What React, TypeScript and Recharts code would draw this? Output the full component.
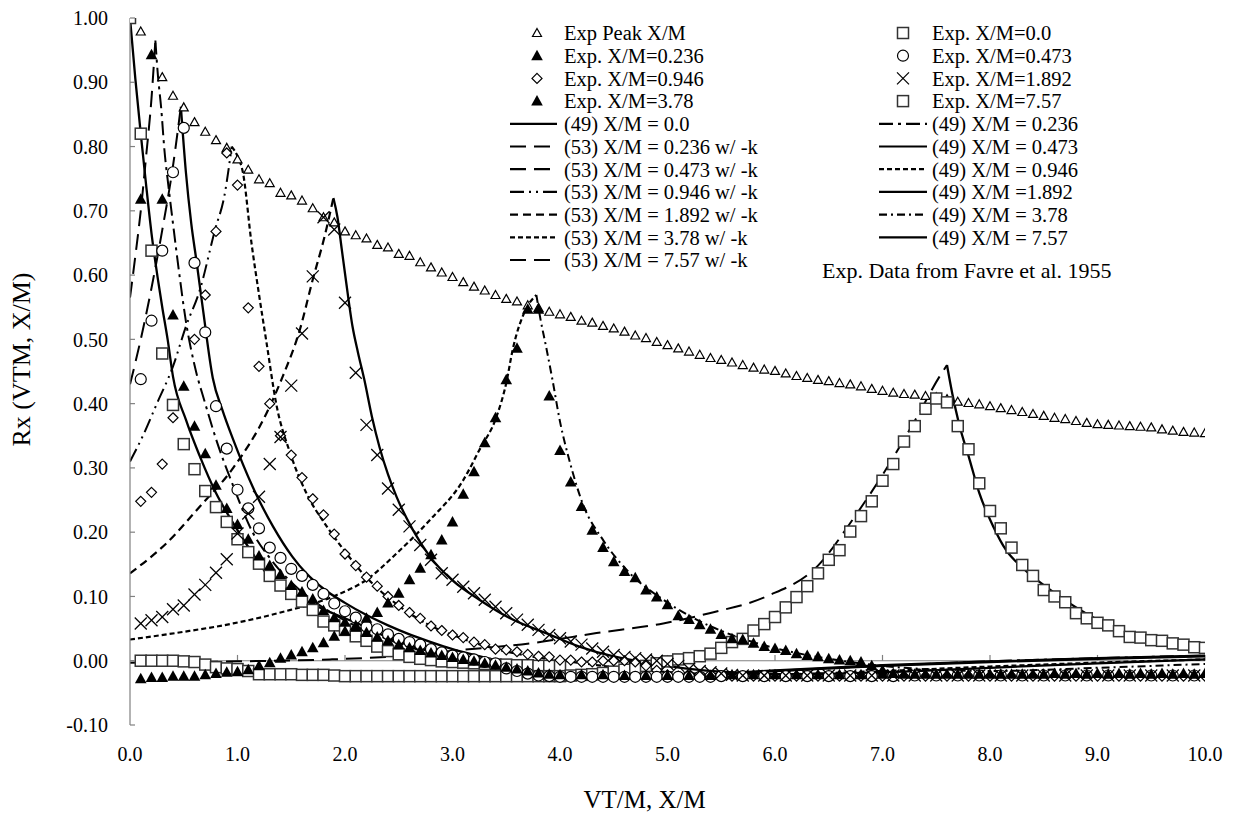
import React from 'react';
import { ComposedChart, Line, Scatter, XAxis, YAxis, ReferenceLine } from 'recharts';

// Rx decay vs VT/M for several X/M positions (Favre et al. 1955 data + models)

type Pt = [number, number];

const FONT = '"Liberation Serif", "Times New Roman", serif';
const AXIS_GREY = '#808080';

const X_TICKS = [0, 1, 2, 3, 4, 5, 6, 7, 8, 9, 10];
const Y_TICKS = [-0.1, 0, 0.1, 0.2, 0.3, 0.4, 0.5, 0.6, 0.7, 0.8, 0.9, 1.0];

// ---------------------------------------------------------------------------
//  Experimental data (read off the figure)
// ---------------------------------------------------------------------------

const EXP_PEAK: Pt[] = [
  [0, 1.0], [0.1, 0.979], [0.3, 0.908], [0.4, 0.879], [0.5, 0.861], [0.6, 0.838], [0.7, 0.823], [0.8, 0.81],
  [0.9, 0.798], [1.0, 0.78], [1.1, 0.764], [1.2, 0.749], [1.3, 0.743], [1.4, 0.728], [1.5, 0.724], [1.6, 0.716],
  [1.7, 0.704], [1.8, 0.69], [1.9, 0.682], [2.0, 0.668], [2.1, 0.662], [2.2, 0.657], [2.3, 0.647], [2.4, 0.643],
  [2.5, 0.633], [2.6, 0.63], [2.7, 0.62], [2.8, 0.612], [2.9, 0.604], [3.0, 0.597], [3.1, 0.589], [3.2, 0.582],
  [3.3, 0.576], [3.4, 0.569], [3.5, 0.563], [3.6, 0.559], [3.7, 0.553], [3.8, 0.549], [3.9, 0.543], [4.0, 0.539],
  [4.1, 0.535], [4.2, 0.529], [4.3, 0.526], [4.4, 0.521], [4.5, 0.517], [4.6, 0.512], [4.7, 0.506], [4.8, 0.502],
  [4.9, 0.496], [5.0, 0.491], [5.1, 0.486], [5.2, 0.481], [5.3, 0.476], [5.4, 0.471], [5.5, 0.468], [5.6, 0.464],
  [5.7, 0.46], [5.8, 0.456], [5.9, 0.453], [6.0, 0.451], [6.1, 0.447], [6.2, 0.443], [6.3, 0.44], [6.4, 0.437],
  [6.5, 0.435], [6.6, 0.432], [6.7, 0.43], [6.8, 0.427], [6.9, 0.423], [7.0, 0.42], [7.1, 0.417], [7.2, 0.415],
  [7.3, 0.414], [7.4, 0.412], [7.5, 0.41], [7.6, 0.407], [7.7, 0.403], [7.8, 0.401], [7.9, 0.399], [8.0, 0.396],
  [8.1, 0.393], [8.2, 0.39], [8.3, 0.387], [8.4, 0.384], [8.5, 0.381], [8.6, 0.378], [8.7, 0.376], [8.8, 0.373],
  [8.9, 0.37], [9.0, 0.368], [9.1, 0.367], [9.2, 0.366], [9.3, 0.365], [9.4, 0.364], [9.5, 0.363], [9.6, 0.36],
  [9.7, 0.358], [9.8, 0.356], [9.9, 0.355], [10.0, 0.354],
];

const EXP_0: Pt[] = [
  [0, 1.0], [0.1, 0.82], [0.2, 0.638], [0.3, 0.478], [0.4, 0.398], [0.5, 0.337], [0.6, 0.298], [0.7, 0.264],
  [0.8, 0.239], [0.9, 0.216], [1.0, 0.189], [1.1, 0.169], [1.2, 0.151], [1.3, 0.132], [1.4, 0.117], [1.5, 0.104],
  [1.6, 0.092], [1.7, 0.079], [1.8, 0.061], [1.9, 0.055], [2.0, 0.048], [2.1, 0.038], [2.2, 0.031], [2.3, 0.022],
  [2.4, 0.015], [2.5, 0.01], [2.6, 0.006], [2.7, 0.003], [2.8, 0.001], [2.9, -0.001], [3.0, -0.002], [3.1, -0.003],
  [3.2, -0.004], [3.3, -0.005], [3.4, -0.006], [3.5, -0.006], [3.6, -0.007], [3.7, -0.007], [3.8, -0.008],
  [3.9, -0.008], [4.0, -0.008],
];

const EXP_0236: Pt[] = [
  [0.1, 0.718], [0.2, 0.943], [0.3, 0.718], [0.4, 0.538], [0.5, 0.427], [0.6, 0.365], [0.7, 0.322], [0.8, 0.273],
  [0.9, 0.237], [1.0, 0.212], [1.1, 0.189], [1.2, 0.163], [1.3, 0.148], [1.4, 0.134], [1.5, 0.117], [1.6, 0.107],
  [1.7, 0.096], [1.8, 0.078], [1.9, 0.067], [2.0, 0.06], [2.1, 0.052], [2.2, 0.044], [2.3, 0.037], [2.4, 0.031],
  [2.5, 0.025], [2.6, 0.02], [2.7, 0.016], [2.8, 0.012], [2.9, 0.008], [3.0, 0.005], [3.1, 0.002], [3.2, -0.001],
  [3.3, -0.004], [3.4, -0.007], [3.5, -0.01], [3.6, -0.013], [3.7, -0.016], [3.8, -0.019], [3.9, -0.021],
  [4.0, -0.022], [4.2, -0.022], [4.4, -0.022], [4.6, -0.023], [4.8, -0.023], [5.0, -0.023], [5.2, -0.023],
  [5.4, -0.023], [5.6, -0.022], [5.8, -0.022], [6.0, -0.022], [6.2, -0.022], [6.4, -0.022], [6.6, -0.022],
  [6.8, -0.022], [7.0, -0.021], [7.2, -0.021], [7.4, -0.021], [7.6, -0.021], [7.8, -0.021], [8.0, -0.021],
  [8.2, -0.021], [8.4, -0.021], [8.6, -0.02], [8.8, -0.02], [9.0, -0.02], [9.2, -0.02], [9.4, -0.02],
  [9.6, -0.02], [9.8, -0.02], [10.0, -0.02],
];

const EXP_0473: Pt[] = [
  [0.1, 0.438], [0.2, 0.529], [0.3, 0.638], [0.4, 0.76], [0.5, 0.829], [0.6, 0.619], [0.7, 0.511], [0.8, 0.396],
  [0.9, 0.33], [1.0, 0.266], [1.1, 0.237], [1.2, 0.206], [1.3, 0.176], [1.4, 0.16], [1.5, 0.143], [1.6, 0.132],
  [1.7, 0.118], [1.8, 0.104], [1.9, 0.089], [2.0, 0.077], [2.1, 0.067], [2.2, 0.053], [2.3, 0.049], [2.4, 0.041],
  [2.5, 0.034], [2.6, 0.029], [2.7, 0.025], [2.8, 0.018], [2.9, 0.013], [3.0, 0.008], [3.1, 0.005], [3.2, 0.002],
  [3.3, -0.002], [3.4, -0.004], [3.5, -0.012], [3.6, -0.016], [3.7, -0.02], [3.8, -0.023], [3.9, -0.024],
  [4.0, -0.025], [4.1, -0.025], [4.2, -0.025], [4.3, -0.025], [4.4, -0.025], [4.5, -0.025], [4.6, -0.025],
  [4.7, -0.025], [4.8, -0.025], [4.9, -0.025], [5.0, -0.025], [5.1, -0.025], [5.2, -0.025], [5.3, -0.025],
  [5.4, -0.025], [5.5, -0.024], [5.7, -0.024], [5.9, -0.024], [6.1, -0.024], [6.3, -0.024], [6.5, -0.024],
  [6.7, -0.024], [6.9, -0.024], [7.1, -0.024], [7.3, -0.023], [7.5, -0.023], [7.7, -0.023], [7.9, -0.023],
  [8.1, -0.023], [8.3, -0.023], [8.5, -0.023], [8.7, -0.023], [8.9, -0.023], [9.1, -0.023], [9.3, -0.023],
  [9.5, -0.023], [9.7, -0.023], [9.9, -0.023],
];

const EXP_0946: Pt[] = [
  [0.1, 0.248], [0.2, 0.262], [0.3, 0.306], [0.4, 0.378], [0.6, 0.5], [0.7, 0.569], [0.8, 0.668], [0.9, 0.79],
  [1.0, 0.74], [1.1, 0.549], [1.2, 0.458], [1.3, 0.4], [1.4, 0.35], [1.5, 0.32], [1.6, 0.285], [1.7, 0.252],
  [1.8, 0.227], [1.9, 0.197], [2.0, 0.166], [2.1, 0.148], [2.2, 0.13], [2.3, 0.116], [2.4, 0.1], [2.5, 0.086],
  [2.6, 0.075], [2.7, 0.066], [2.8, 0.054], [2.9, 0.047], [3.0, 0.04], [3.1, 0.036], [3.2, 0.029], [3.3, 0.025],
  [3.4, 0.018], [3.5, 0.017], [3.6, 0.014], [3.7, 0.01], [3.8, 0.007], [3.9, 0.006], [4.0, 0.001], [4.1, 0.001],
  [4.2, -0.002], [4.3, -0.002], [4.4, 0.0], [4.5, 0.0], [4.6, 0.0], [4.7, -0.002], [4.8, -0.008], [4.9, -0.015],
  [5.0, -0.022], [5.1, -0.024], [5.2, -0.024], [5.3, -0.024], [5.4, -0.024], [5.5, -0.024], [5.6, -0.024],
  [5.7, -0.024], [5.8, -0.024], [5.9, -0.024], [6.0, -0.024], [6.2, -0.024], [6.4, -0.024], [6.6, -0.024],
  [6.8, -0.024], [7.0, -0.024], [7.2, -0.024], [7.4, -0.024], [7.6, -0.024], [7.8, -0.024], [8.0, -0.024],
  [8.2, -0.024], [8.4, -0.024], [8.6, -0.024], [8.8, -0.024], [9.0, -0.024], [9.2, -0.024], [9.4, -0.024],
  [9.6, -0.024], [9.8, -0.024], [10.0, -0.024],
];

const EXP_1892: Pt[] = [
  [0.1, 0.058], [0.2, 0.063], [0.3, 0.068], [0.4, 0.08], [0.5, 0.086], [0.6, 0.103], [0.7, 0.118], [0.8, 0.137],
  [0.9, 0.158], [1.0, 0.198], [1.1, 0.229], [1.2, 0.255], [1.3, 0.306], [1.4, 0.348], [1.5, 0.428], [1.6, 0.509],
  [1.7, 0.598], [1.8, 0.69], [1.9, 0.671], [2.0, 0.557], [2.1, 0.448], [2.2, 0.367], [2.3, 0.32], [2.4, 0.268],
  [2.5, 0.235], [2.6, 0.209], [2.7, 0.18], [2.8, 0.157], [2.9, 0.136], [3.0, 0.126], [3.1, 0.115], [3.2, 0.105],
  [3.3, 0.095], [3.4, 0.084], [3.5, 0.074], [3.6, 0.064], [3.7, 0.056], [3.8, 0.048], [3.9, 0.04], [4.0, 0.035],
  [4.1, 0.03], [4.2, 0.025], [4.3, 0.019], [4.4, 0.014], [4.5, 0.009], [4.6, 0.006], [4.7, 0.004], [4.8, 0.002],
  [4.9, 0.0], [5.0, -0.005], [5.1, -0.008], [5.2, -0.013], [5.3, -0.016], [5.4, -0.018], [5.5, -0.02],
  [5.6, -0.022], [5.7, -0.023], [5.9, -0.023], [6.1, -0.023], [6.3, -0.023], [6.5, -0.023], [6.7, -0.023],
  [6.9, -0.023], [7.1, -0.023], [7.3, -0.023], [7.5, -0.023], [7.7, -0.023], [7.9, -0.023], [8.1, -0.023],
  [8.3, -0.023], [8.5, -0.023], [8.7, -0.023], [8.9, -0.023], [9.1, -0.023], [9.3, -0.023], [9.5, -0.023],
  [9.7, -0.023], [9.9, -0.023],
];

const EXP_378: Pt[] = [
  [0.1, -0.028], [0.2, -0.026], [0.3, -0.026], [0.4, -0.024], [0.5, -0.024], [0.6, -0.024], [0.7, -0.022],
  [0.8, -0.02], [0.9, -0.018], [1.0, -0.017], [1.1, -0.014], [1.2, -0.008], [1.3, -0.003], [1.4, 0.004],
  [1.5, 0.009], [1.6, 0.014], [1.7, 0.02], [1.8, 0.028], [1.9, 0.038], [2.0, 0.046], [2.1, 0.055], [2.2, 0.066],
  [2.3, 0.075], [2.4, 0.09], [2.5, 0.105], [2.6, 0.126], [2.7, 0.144], [2.8, 0.165], [2.9, 0.188], [3.0, 0.216],
  [3.1, 0.259], [3.2, 0.294], [3.3, 0.339], [3.4, 0.378], [3.5, 0.437], [3.6, 0.486], [3.7, 0.547], [3.8, 0.547],
  [3.9, 0.412], [4.0, 0.327], [4.1, 0.278], [4.2, 0.24], [4.3, 0.203], [4.4, 0.176], [4.5, 0.154], [4.6, 0.139],
  [4.7, 0.129], [4.8, 0.11], [4.9, 0.099], [5.0, 0.087], [5.1, 0.07], [5.2, 0.064], [5.3, 0.056], [5.4, 0.049],
  [5.5, 0.041], [5.6, 0.034], [5.7, 0.033], [5.8, 0.027], [5.9, 0.022], [6.0, 0.019], [6.1, 0.016], [6.2, 0.011],
  [6.3, 0.008], [6.4, 0.006], [6.5, 0.003], [6.6, 0.001], [6.7, 0.0], [6.8, -0.002], [6.9, -0.008],
  [7.0, -0.015], [7.1, -0.02], [7.3, -0.021], [7.5, -0.021], [7.7, -0.021], [7.9, -0.021], [8.1, -0.021],
  [8.3, -0.021], [8.5, -0.021], [8.7, -0.021], [8.9, -0.021], [9.1, -0.021], [9.3, -0.021], [9.5, -0.021],
  [9.7, -0.021], [9.9, -0.021],
];

const EXP_757: Pt[] = [
  [0.1, 0.0], [0.2, 0.0], [0.3, 0.0], [0.4, 0.0], [0.5, -0.001], [0.6, -0.002], [0.7, -0.006], [0.8, -0.01],
  [0.9, -0.012], [1.0, -0.013], [1.1, -0.016], [1.2, -0.021], [1.3, -0.021], [1.4, -0.021], [1.5, -0.021],
  [1.6, -0.022], [1.7, -0.022], [1.8, -0.022], [1.9, -0.023], [2.0, -0.024], [2.1, -0.024], [2.2, -0.024],
  [2.3, -0.024], [2.4, -0.024], [2.5, -0.024], [2.6, -0.024], [2.7, -0.024], [2.8, -0.024], [2.9, -0.024],
  [3.0, -0.024], [3.1, -0.024], [3.2, -0.024], [3.3, -0.024], [3.4, -0.024], [3.5, -0.024], [3.6, -0.024],
  [3.7, -0.024], [3.8, -0.024], [3.9, -0.024], [4.0, -0.024], [4.1, -0.023], [4.2, -0.022], [4.3, -0.021],
  [4.4, -0.019], [4.5, -0.017], [4.6, -0.014], [4.7, -0.011], [4.8, -0.008], [4.9, -0.004], [5.0, -0.001],
  [5.1, 0.002], [5.2, 0.004], [5.3, 0.007], [5.4, 0.011], [5.5, 0.02], [5.6, 0.029], [5.7, 0.034], [5.8, 0.047],
  [5.9, 0.057], [6.0, 0.068], [6.1, 0.083], [6.2, 0.099], [6.3, 0.116], [6.4, 0.136], [6.5, 0.157], [6.6, 0.172],
  [6.7, 0.201], [6.8, 0.225], [6.9, 0.248], [7.0, 0.28], [7.1, 0.306], [7.2, 0.341], [7.3, 0.365], [7.4, 0.392],
  [7.5, 0.408], [7.6, 0.402], [7.7, 0.365], [7.8, 0.329], [7.9, 0.276], [8.0, 0.233], [8.1, 0.206], [8.2, 0.176],
  [8.3, 0.149], [8.4, 0.132], [8.5, 0.11], [8.6, 0.1], [8.7, 0.091], [8.8, 0.074], [8.9, 0.066], [9.0, 0.059],
  [9.1, 0.055], [9.2, 0.046], [9.3, 0.037], [9.4, 0.036], [9.5, 0.032], [9.6, 0.031], [9.7, 0.027], [9.8, 0.025],
  [9.9, 0.021], [10.0, 0.02],
];

// ---------------------------------------------------------------------------
//  Model curves: (53) w/ -k before the peak, (49) after it
// ---------------------------------------------------------------------------

const M49_00: Pt[] = [
  [0, 1.0], [0.05, 0.905], [0.1, 0.82], [0.15, 0.74], [0.2, 0.665], [0.26, 0.593], [0.3, 0.55], [0.35, 0.5],
  [0.4, 0.442], [0.52, 0.375], [0.65, 0.318], [0.8, 0.261], [0.96, 0.214], [1.14, 0.167], [1.27, 0.136],
  [1.45, 0.113], [1.6, 0.097], [1.8, 0.08], [2.0, 0.066], [2.12, 0.058], [2.4, 0.036], [2.74, 0.017],
  [3.0, 0.006], [3.36, -0.009], [3.6, -0.018], [3.86, -0.025], [4.2, -0.029], [4.6, -0.028], [5.0, -0.025],
  [5.5, -0.02], [6.0, -0.015], [7.0, -0.007], [8.0, -0.001], [9.0, 0.004], [10.0, 0.008],
];
const M49_0236: Pt[] = [
  [0.236, 0.965], [0.26, 0.91], [0.29, 0.86], [0.32, 0.795], [0.36, 0.735], [0.4, 0.68], [0.46, 0.6],
  [0.52, 0.528], [0.6, 0.46], [0.7, 0.4], [0.8, 0.345], [0.96, 0.272], [1.14, 0.2], [1.3, 0.16], [1.5, 0.122],
  [1.7, 0.094], [1.9, 0.072], [2.1, 0.054], [2.3, 0.04], [2.5, 0.027], [2.7, 0.016], [2.9, 0.006],
  [3.1, -0.003], [3.4, -0.013], [3.7, -0.021], [4.0, -0.026], [4.4, -0.028], [5.0, -0.025], [6.0, -0.016],
  [7.0, -0.008], [8.0, -0.001], [9.0, 0.004], [10.0, 0.008],
];
const M49_0473: Pt[] = [
  [0.473, 0.862], [0.52, 0.76], [0.57, 0.68], [0.62, 0.62], [0.68, 0.545], [0.77, 0.44], [0.86, 0.39],
  [0.96, 0.344], [1.14, 0.271], [1.33, 0.209], [1.51, 0.162], [1.64, 0.136], [1.8, 0.112], [2.0, 0.09],
  [2.2, 0.071], [2.4, 0.055], [2.6, 0.041], [2.8, 0.029], [3.0, 0.018], [3.2, 0.009], [3.4, 0.001],
  [3.6, -0.007], [3.8, -0.014], [4.0, -0.02], [4.3, -0.025], [4.7, -0.027], [5.2, -0.024], [6.0, -0.016],
  [7.0, -0.008], [8.0, -0.002], [9.0, 0.003], [10.0, 0.007],
];
const M49_0946: Pt[] = [
  [0.946, 0.8], [1.0, 0.785], [1.05, 0.76], [1.13, 0.65], [1.2, 0.57], [1.27, 0.495], [1.36, 0.4],
  [1.49, 0.323], [1.64, 0.261], [1.83, 0.209], [2.0, 0.17], [2.17, 0.135], [2.48, 0.088], [2.79, 0.055],
  [3.1, 0.034], [3.41, 0.018], [3.72, 0.007], [4.03, 0.0], [4.4, -0.008], [4.8, -0.015], [5.3, -0.02],
  [6.0, -0.021], [7.0, -0.016], [8.0, -0.009], [9.0, -0.003], [10.0, 0.002],
];
const M49_1892: Pt[] = [
  [1.892, 0.72], [1.93, 0.69], [1.97, 0.64], [2.01, 0.59], [2.07, 0.52], [2.12, 0.48], [2.18, 0.437],
  [2.25, 0.38], [2.32, 0.333], [2.4, 0.29], [2.48, 0.255], [2.63, 0.204], [2.79, 0.162], [3.0, 0.125],
  [3.25, 0.095], [3.56, 0.064], [3.87, 0.043], [4.18, 0.022], [4.49, 0.007], [4.8, -0.003], [5.27, -0.014],
  [5.7, -0.019], [6.2, -0.021], [7.0, -0.018], [8.0, -0.011], [9.0, -0.004], [10.0, 0.002],
];
const M49_378: Pt[] = [
  [3.78, 0.569], [3.82, 0.53], [3.87, 0.489], [3.93, 0.437], [4.0, 0.372], [4.09, 0.31], [4.21, 0.245],
  [4.4, 0.188], [4.65, 0.136], [4.96, 0.095], [5.27, 0.064], [5.6, 0.04], [5.9, 0.024], [6.2, 0.012],
  [6.5, 0.003], [7.0, -0.008], [7.5, -0.014], [8.0, -0.016], [9.0, -0.011], [10.0, -0.005],
];
const M49_757: Pt[] = [
  [7.6, 0.46], [7.65, 0.415], [7.71, 0.37], [7.81, 0.313], [7.9, 0.261], [8.03, 0.209], [8.15, 0.172],
  [8.3, 0.145], [8.58, 0.108], [8.89, 0.074], [9.2, 0.048], [9.51, 0.032], [10.0, 0.012],
];

const M53_0236: Pt[] = [[0, 0.565], [0.05, 0.63], [0.1, 0.7], [0.15, 0.785], [0.2, 0.875], [0.236, 0.965]];
const M53_0473: Pt[] = [[0, 0.43], [0.1, 0.5], [0.2, 0.58], [0.3, 0.67], [0.4, 0.77], [0.473, 0.862]];
const M53_0946: Pt[] = [
  [0, 0.31], [0.12, 0.35], [0.25, 0.4], [0.4, 0.458], [0.52, 0.52], [0.65, 0.577], [0.79, 0.67], [0.88, 0.725],
  [0.946, 0.8],
];
const M53_1892: Pt[] = [
  [0, 0.136], [0.34, 0.183], [0.65, 0.24], [0.96, 0.3], [1.27, 0.385], [1.42, 0.442], [1.58, 0.515],
  [1.7, 0.593], [1.81, 0.66], [1.892, 0.72],
];
const M53_378: Pt[] = [
  [0, 0.033], [0.5, 0.045], [0.96, 0.058], [1.4, 0.075], [1.89, 0.1], [2.2, 0.126], [2.48, 0.167], [2.79, 0.219],
  [3.1, 0.281], [3.25, 0.328], [3.41, 0.38], [3.5, 0.432], [3.56, 0.484], [3.68, 0.546], [3.78, 0.569],
];
const M53_757: Pt[] = [
  [0, -0.003], [1.0, -0.001], [1.86, 0.002], [2.48, 0.007], [3.1, 0.017], [3.72, 0.027], [4.34, 0.043],
  [4.96, 0.058], [5.39, 0.074], [5.92, 0.1], [6.4, 0.148], [6.72, 0.219], [7.03, 0.297], [7.34, 0.385],
  [7.53, 0.442], [7.6, 0.46],
];

// ---------------------------------------------------------------------------
//  Styles
// ---------------------------------------------------------------------------

const DASH = {
  solid: undefined as string | undefined,
  longDash: '16 8',
  dashDotDot: '14 5 2 5 2 5',
  dash: '8 5',
  shortDash: '5 3',
  longDashDot: '14 5 3 5',
  dashDot: '8 4 2 4',
};

const rows = (pts: Pt[]) => pts.map(([x, y]) => ({ x, y }));

type MP = { cx?: number; cy?: number };

function PeakTri({ cx = 0, cy = 0 }: MP) {
  return (
    <path
      d={`M${cx},${cy - 4.5}L${cx + 4.5},${cy + 3.5}L${cx - 4.5},${cy + 3.5}Z`}
      fill="#fff"
      stroke="#000"
      strokeWidth={1.2}
    />
  );
}
function FilledTri({ cx = 0, cy = 0 }: MP) {
  return <path d={`M${cx},${cy - 6}L${cx + 5.8},${cy + 4.5}L${cx - 5.8},${cy + 4.5}Z`} fill="#000" />;
}
function OpenSquare({ cx = 0, cy = 0 }: MP) {
  return <rect x={cx - 5.5} y={cy - 5.5} width={11} height={11} fill="#fff" stroke="#333" strokeWidth={1.5} />;
}
function OpenCircle({ cx = 0, cy = 0 }: MP) {
  return <circle cx={cx} cy={cy} r={5.5} fill="#fff" stroke="#000" strokeWidth={1.2} />;
}
function OpenDiamond({ cx = 0, cy = 0 }: MP) {
  return (
    <path
      d={`M${cx},${cy - 5}L${cx + 5},${cy}L${cx},${cy + 5}L${cx - 5},${cy}Z`}
      fill="#fff"
      stroke="#000"
      strokeWidth={1.2}
    />
  );
}
function Cross({ cx = 0, cy = 0 }: MP) {
  return (
    <g stroke="#000" strokeWidth={1.3}>
      <line x1={cx - 6} y1={cy - 6} x2={cx + 6} y2={cy + 6} />
      <line x1={cx - 6} y1={cy + 6} x2={cx + 6} y2={cy - 6} />
    </g>
  );
}

const SCATTERS = [
  { key: 'peak', data: EXP_PEAK, Shape: PeakTri },
  { key: 'x0', data: EXP_0, Shape: OpenSquare },
  { key: 'x757', data: EXP_757, Shape: OpenSquare },
  { key: 'x0946', data: EXP_0946, Shape: OpenDiamond },
  { key: 'x0473', data: EXP_0473, Shape: OpenCircle },
  { key: 'x1892', data: EXP_1892, Shape: Cross },
  { key: 'x0236', data: EXP_0236, Shape: FilledTri },
  { key: 'x378', data: EXP_378, Shape: FilledTri },
];

const LINES = [
  { key: 'm49_00', data: M49_00, dash: DASH.solid, w: 2.3 },
  { key: 'm53_0236', data: M53_0236, dash: DASH.longDash, w: 2 },
  { key: 'm53_0473', data: M53_0473, dash: DASH.longDash, w: 2 },
  { key: 'm53_0946', data: M53_0946, dash: DASH.dashDotDot, w: 2 },
  { key: 'm53_1892', data: M53_1892, dash: DASH.dash, w: 2.2 },
  { key: 'm53_378', data: M53_378, dash: DASH.shortDash, w: 2.2 },
  { key: 'm53_757', data: M53_757, dash: DASH.longDash, w: 2 },
  { key: 'm49_0236', data: M49_0236, dash: DASH.longDashDot, w: 2 },
  { key: 'm49_0473', data: M49_0473, dash: DASH.solid, w: 2.3 },
  { key: 'm49_0946', data: M49_0946, dash: DASH.shortDash, w: 2.2 },
  { key: 'm49_1892', data: M49_1892, dash: DASH.solid, w: 2.3 },
  { key: 'm49_378', data: M49_378, dash: DASH.dashDot, w: 2 },
  { key: 'm49_757', data: M49_757, dash: DASH.solid, w: 2.3 },
];

// legend rows (left column, right column)
const LEGEND_LEFT: { label: string; marker?: any; dash?: string | null }[] = [
  { label: 'Exp Peak X/M', marker: PeakTri },
  { label: 'Exp. X/M=0.236', marker: FilledTri },
  { label: 'Exp. X/M=0.946', marker: OpenDiamond },
  { label: 'Exp. X/M=3.78', marker: FilledTri },
  { label: '(49) X/M = 0.0', dash: null },
  { label: '(53) X/M = 0.236 w/ -k', dash: DASH.longDash },
  { label: '(53) X/M = 0.473 w/ -k', dash: DASH.longDash },
  { label: '(53) X/M = 0.946 w/ -k', dash: DASH.dashDotDot },
  { label: '(53) X/M = 1.892 w/ -k', dash: DASH.dash },
  { label: '(53) X/M = 3.78 w/ -k', dash: DASH.shortDash },
  { label: '(53) X/M = 7.57 w/ -k', dash: DASH.longDash },
];
const LEGEND_RIGHT: { label: string; marker?: any; dash?: string | null }[] = [
  { label: 'Exp. X/M=0.0', marker: OpenSquare },
  { label: 'Exp. X/M=0.473', marker: OpenCircle },
  { label: 'Exp. X/M=1.892', marker: Cross },
  { label: 'Exp. X/M=7.57', marker: OpenSquare },
  { label: '(49) X/M = 0.236', dash: DASH.longDashDot },
  { label: '(49) X/M = 0.473', dash: null },
  { label: '(49) X/M = 0.946', dash: DASH.shortDash },
  { label: '(49) X/M =1.892', dash: null },
  { label: '(49) X/M = 3.78', dash: DASH.dashDot },
  { label: '(49) X/M = 7.57', dash: null },
];
const SOURCE_NOTE = 'Exp. Data from Favre et al. 1955';

// ---------------------------------------------------------------------------
//  Axis pieces
// ---------------------------------------------------------------------------

function YTick({ x = 0, y = 0, payload }: any) {
  return (
    <g>
      <line x1={x + 22} x2={x + 27} y1={y} y2={y} stroke={AXIS_GREY} strokeWidth={1.2} />
      <text x={x} y={y} dy="0.36em" textAnchor="end" fontFamily={FONT} fontSize={20} fill="#000">
        {Number(payload.value).toFixed(2)}
      </text>
    </g>
  );
}

function XTick({ x = 0, y = 0, payload }: any) {
  return (
    <text x={x} y={y + 28} textAnchor="middle" fontFamily={FONT} fontSize={20} fill="#000">
      {Number(payload.value).toFixed(1)}
    </text>
  );
}

function XTitle({ viewBox }: any) {
  const vb = viewBox || { x: 130, y: 725, width: 1075, height: 30 };
  return (
    <text x={vb.x + vb.width / 2 - 23} y={vb.y + 83} textAnchor="middle" fontFamily={FONT} fontSize={25} fill="#000">
      VT/M, X/M
    </text>
  );
}

function YTitle({ viewBox }: any) {
  const vb = viewBox || { x: 0, y: 18, width: 130, height: 707 };
  const cx = vb.x + 30;
  const cy = vb.y + vb.height / 2 - 12;
  return (
    <text
      x={cx}
      y={cy}
      transform={`rotate(-90 ${cx} ${cy})`}
      textAnchor="middle"
      fontFamily={FONT}
      fontSize={26}
      fill="#000"
    >
      Rx (VTM, X/M)
    </text>
  );
}

function LegendColumn({ items, markerX, lineX1, lineX2, textX }: any) {
  const ROW0 = 33;
  const STEP = 22.7;
  return (
    <g>
      {items.map((it: any, i: number) => {
        const cy = ROW0 + i * STEP;
        const M = it.marker;
        return (
          <g key={it.label}>
            {M ? (
              <M cx={markerX} cy={cy} />
            ) : (
              <line
                x1={lineX1}
                x2={lineX2}
                y1={cy}
                y2={cy}
                stroke="#000"
                strokeWidth={2.2}
                strokeDasharray={it.dash || undefined}
              />
            )}
            <text x={textX} y={cy} dy="0.36em" fontFamily={FONT} fontSize={20.5} fill="#000">
              {it.label}
            </text>
          </g>
        );
      })}
    </g>
  );
}

export default function App() {
  return (
    <div style={{ position: 'absolute', left: 0, top: 0, width: 1242, height: 815, background: '#fff' }}>
      <ComposedChart width={1242} height={815} margin={{ top: 18, right: 37, bottom: 60, left: 0 }}>
        <XAxis
          type="number"
          dataKey="x"
          domain={[0, 10]}
          ticks={X_TICKS}
          interval={0}
          axisLine={false}
          tickLine={false}
          height={30}
          tick={<XTick />}
          label={<XTitle />}
          allowDataOverflow
        />
        <YAxis
          type="number"
          dataKey="y"
          domain={[-0.1, 1]}
          ticks={Y_TICKS}
          interval={0}
          width={130}
          axisLine={{ stroke: AXIS_GREY, strokeWidth: 1.2 }}
          tickLine={false}
          tickSize={6}
          tickMargin={16}
          tick={<YTick />}
          label={<YTitle />}
          allowDataOverflow
        />
        <ReferenceLine y={0} stroke={AXIS_GREY} strokeWidth={1.2} />
        {X_TICKS.slice(1).map((t) => (
          <ReferenceLine
            key={`xt-${t}`}
            segment={[
              { x: t, y: 0 },
              { x: t, y: 0.009 },
            ]}
            stroke={AXIS_GREY}
            strokeWidth={1.2}
          />
        ))}
        {LINES.map((l) => (
          <Line
            key={l.key}
            data={rows(l.data)}
            dataKey="y"
            type="monotone"
            stroke="#000"
            strokeWidth={l.w}
            strokeDasharray={l.dash}
            dot={false}
            activeDot={false}
            isAnimationActive={false}
          />
        ))}
        {SCATTERS.map((s) => {
          const Shape = s.Shape;
          return (
            <Scatter
              key={s.key}
              data={rows(s.data)}
              shape={(p: any) => <Shape cx={p.cx} cy={p.cy} />}
              isAnimationActive={false}
            />
          );
        })}
      </ComposedChart>
      <svg
        width={1242}
        height={815}
        style={{ position: 'absolute', left: 0, top: 0, pointerEvents: 'none' }}
      >
        <LegendColumn items={LEGEND_LEFT} markerX={537} lineX1={510} lineX2={557} textX={564} />
        <LegendColumn items={LEGEND_RIGHT} markerX={903} lineX1={879} lineX2={927} textX={932} />
        <text x={822} y={270} dy="0.36em" fontFamily={FONT} fontSize={22} fill="#000">
          {SOURCE_NOTE}
        </text>
      </svg>
    </div>
  );
}
